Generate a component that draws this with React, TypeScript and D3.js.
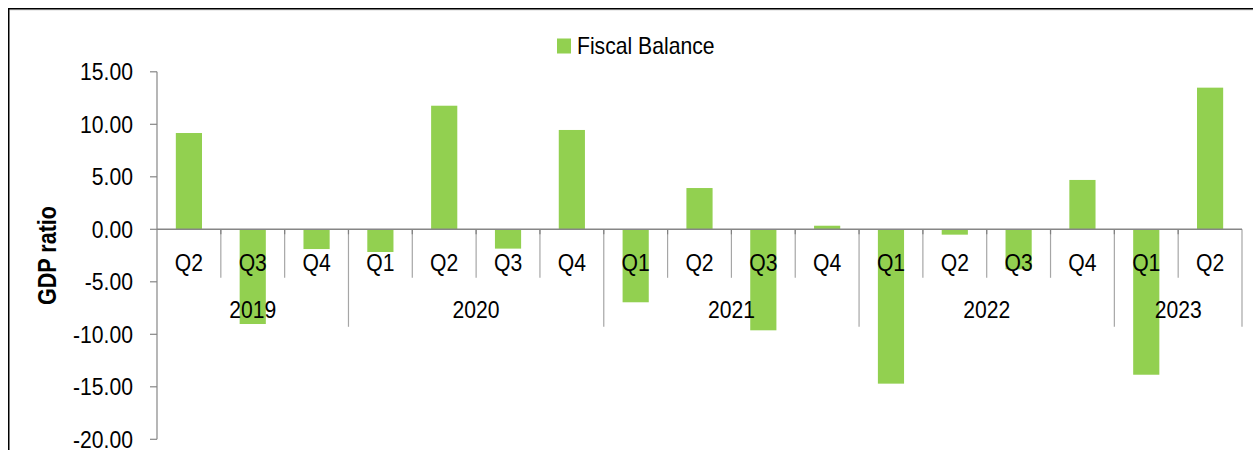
import React from 'react';
import * as d3 from 'd3';

const seriesName = 'Fiscal Balance';
const yTitle = 'GDP ratio';
const years = ['2019', '2020', '2021', '2022', '2023'];
const quarterLabels = ['Q2', 'Q3', 'Q4', 'Q1', 'Q2', 'Q3', 'Q4', 'Q1', 'Q2', 'Q3', 'Q4', 'Q1', 'Q2', 'Q3', 'Q4', 'Q1', 'Q2'];
const quarterYears = ['2019', '2019', '2019', '2020', '2020', '2020', '2020', '2021', '2021', '2021', '2021', '2022', '2022', '2022', '2022', '2023', '2023'];
const fiscalBalance = [9.17, -9.02, -1.88, -2.16, 11.77, -1.84, 9.46, -6.95, 3.93, -9.62, 0.34, -14.7, -0.51, -3.81, 4.7, -13.85, 13.49];
const yTicks = [15, 10, 5, 0, -5, -10, -15, -20];

const W = 1253;
const H = 450;
const FONT = '"Liberation Sans", Arial, sans-serif';
const BAR = '#92D050';
const SX = 0.92;

function T(props: { x: number; y: number; anchor?: string; children: React.ReactNode; size?: number }) {
  const { x, y, anchor = 'start', children, size = 23 } = props;
  return (
    <text transform={`translate(${x},${y}) scale(${SX},1)`} textAnchor={anchor} fontSize={size} fill="#000">
      {children}
    </text>
  );
}

export default function App() {
  const left = 157;
  const right = 1242;
  const ids = quarterLabels.map((_, i) => String(i));
  const x = d3.scaleBand<string>().domain(ids).range([left, right]).paddingInner(0).paddingOuter(0);
  const y = d3.scaleLinear().domain([-20, 15]).range([439.3, 71.8]);
  const bw = x.bandwidth();
  const barW = bw * 0.41;
  const y0 = y(0);
  const qSepBottom = y0 + 48.5;
  const ySepBottom = y0 + 97.5;

  const groups = years.map((yr) => {
    const idx = quarterYears.map((q, i) => (q === yr ? i : -1)).filter((i) => i >= 0);
    const x0 = x(String(idx[0]))!;
    const x1 = x(String(idx[idx.length - 1]))! + bw;
    return { yr, x0, x1 };
  });

  return (
    <svg width={W} height={H} style={{ position: 'absolute', left: 0, top: 0, background: '#fff' }} fontFamily={FONT}>
      <rect x={0} y={0} width={W} height={H} fill="#fff" />
      {/* frame */}
      <line x1={10} x2={W} y1={10} y2={10} stroke="#d9d9d9" strokeWidth={1} />
      <line x1={8.75} x2={8.75} y1={8} y2={H} stroke="#000" strokeWidth={1.5} />
      <line x1={8} x2={W} y1={8.75} y2={8.75} stroke="#000" strokeWidth={1.5} />

      {/* legend */}
      <rect x={557} y={38.5} width={14} height={15} fill={BAR} />
      <T x={577} y={54}>{seriesName}</T>

      {/* y axis */}
      <line x1={left} x2={left} y1={y(15)} y2={y(-20)} stroke="#868686" strokeWidth={1.2} />
      {yTicks.map((t) => (
        <g key={t}>
          <line x1={left - 7} x2={left} y1={y(t)} y2={y(t)} stroke="#868686" strokeWidth={1.2} />
          <T x={133} y={y(t) + 8.5} anchor="end">{t.toFixed(2)}</T>
        </g>
      ))}
      <text transform={`translate(56,${(y(15) + y(-20)) / 2}) rotate(-90) scale(0.83,1)`} textAnchor="middle" fontSize={26} fontWeight="bold" fill="#000">{yTitle}</text>

      {/* bars */}
      {fiscalBalance.map((v, i) => (
        <rect key={i} x={x(String(i))! + (bw - barW) / 2} width={barW} y={Math.min(y(v), y0)} height={Math.abs(y(v) - y0)} fill={BAR} />
      ))}

      {/* separators */}
      {ids.map((id, i) => {
        if (i === 0) return null;
        const xx = x(id)!;
        const isYear = quarterYears[i] !== quarterYears[i - 1];
        return (
          <g key={id}>
            <line x1={xx} x2={xx} y1={y0} y2={isYear ? ySepBottom : qSepBottom} stroke="#a6a6a6" strokeWidth={1.2} />
            <line x1={xx} x2={xx} y1={y0} y2={y0 + 5} stroke="#808080" strokeWidth={1.2} />
          </g>
        );
      })}
      <line x1={right} x2={right} y1={y0} y2={ySepBottom} stroke="#a6a6a6" strokeWidth={1.2} />
      <line x1={left} x2={right} y1={y0} y2={y0} stroke="#868686" strokeWidth={1.5} />

      {/* category labels */}
      {quarterLabels.map((q, i) => (
        <T key={i} x={x(String(i))! + bw / 2} y={y0 + 42} anchor="middle">{q}</T>
      ))}
      {groups.map((g) => (
        <T key={g.yr} x={(g.x0 + g.x1) / 2} y={y0 + 89} anchor="middle">{g.yr}</T>
      ))}
    </svg>
  );
}
